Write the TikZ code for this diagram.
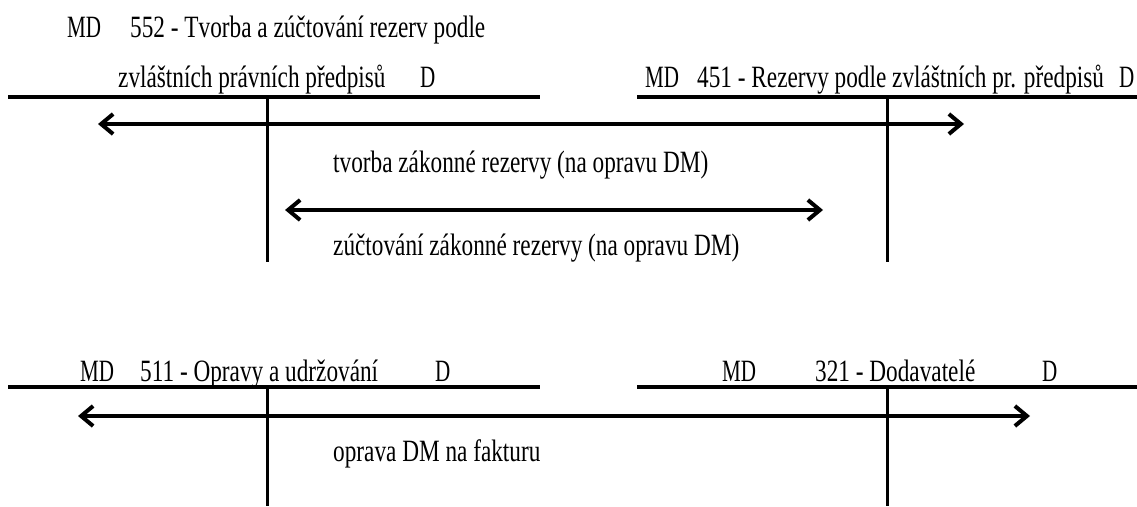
\documentclass[tikz,border=0pt]{standalone}
\usepackage{fontspec}
\setmainfont{Liberation Serif}[FakeStretch=0.75]
\newfontfamily\mdfont{Liberation Serif}[FakeStretch=0.68]
\usetikzlibrary{arrows.meta}
\begin{document}
\begin{tikzpicture}[x=1pt,y=-1pt,
  lbl/.style={anchor=base west, inner sep=0pt, font=\fontsize{31}{33}\selectfont},
  mdlbl/.style={anchor=base west, inner sep=0pt, font=\mdfont\fontsize{31}{33}\selectfont},
  tline/.style={line width=3.3pt},
  vline/.style={line width=3pt},
  flow/.style={line width=4pt, {Straight Barb[length=12pt,width=20pt]}-{Straight Barb[length=12pt,width=20pt]}}]
\useasboundingbox (0,0) rectangle (1137,506);
% coordinates
\coordinate (TL1) at (8,97);   \coordinate (TL2) at (540,97);
\coordinate (TR1) at (637,97); \coordinate (TR2) at (1137,97);
\coordinate (VL1) at (267,97); \coordinate (VL2) at (267,262);
\coordinate (VR1) at (887,97); \coordinate (VR2) at (887,262);
\coordinate (A1L) at (98,124); \coordinate (A1R) at (964,124);
\coordinate (A2L) at (285,210); \coordinate (A2R) at (823,210);
\coordinate (BL1) at (8,387);   \coordinate (BL2) at (540,387);
\coordinate (BR1) at (637,387); \coordinate (BR2) at (1137,387);
\coordinate (WL1) at (267,387); \coordinate (WL2) at (267,506);
\coordinate (WR1) at (887,387); \coordinate (WR2) at (887,506);
\coordinate (A3L) at (78,416); \coordinate (A3R) at (1030,416);
% texts
\node[mdlbl] (md1) at (67,37) {MD};
\node[lbl] (t1) at (130,37) {552 - Tvorba a zúčtování rezerv podle};
\node[lbl] (t1b) at (118,87) {zvláštních právních předpisů};
\node[mdlbl] (d1) at (420,87) {D};
\node[mdlbl] (md2) at (645,87) {MD};
\node[lbl] (t2) at (697,87) {451 - Rezervy podle zvláštních pr. předpisů};
\node[mdlbl] (d2) at (1119,87) {D};
\node[lbl] (f1) at (333,172) {tvorba zákonné rezervy (na opravu DM)};
\node[lbl] (f2) at (333,255) {zúčtování zákonné rezervy (na opravu DM)};
\node[mdlbl] (md3) at (80,381) {MD};
\node[lbl] (t3) at (140,381) {511 - Opravy a udržování};
\node[mdlbl] (d3) at (435,381) {D};
\node[mdlbl] (md4) at (722,381) {MD};
\node[lbl] (t4) at (815,381) {321 - Dodavatelé};
\node[mdlbl] (d4) at (1042,381) {D};
\node[lbl] (f3) at (333,461) {oprava DM na fakturu};
% T accounts
\draw[tline] (TL1) -- (TL2);
\draw[tline] (TR1) -- (TR2);
\draw[vline] (VL1) -- (VL2);
\draw[vline] (VR1) -- (VR2);
\draw[tline] (BL1) -- (BL2);
\draw[tline] (BR1) -- (BR2);
\draw[vline] (WL1) -- (WL2);
\draw[vline] (WR1) -- (WR2);
% flows
\draw[flow] (A1L) -- (A1R);
\draw[flow] (A2L) -- (A2R);
\draw[flow] (A3L) -- (A3R);
\end{tikzpicture}
\end{document}
